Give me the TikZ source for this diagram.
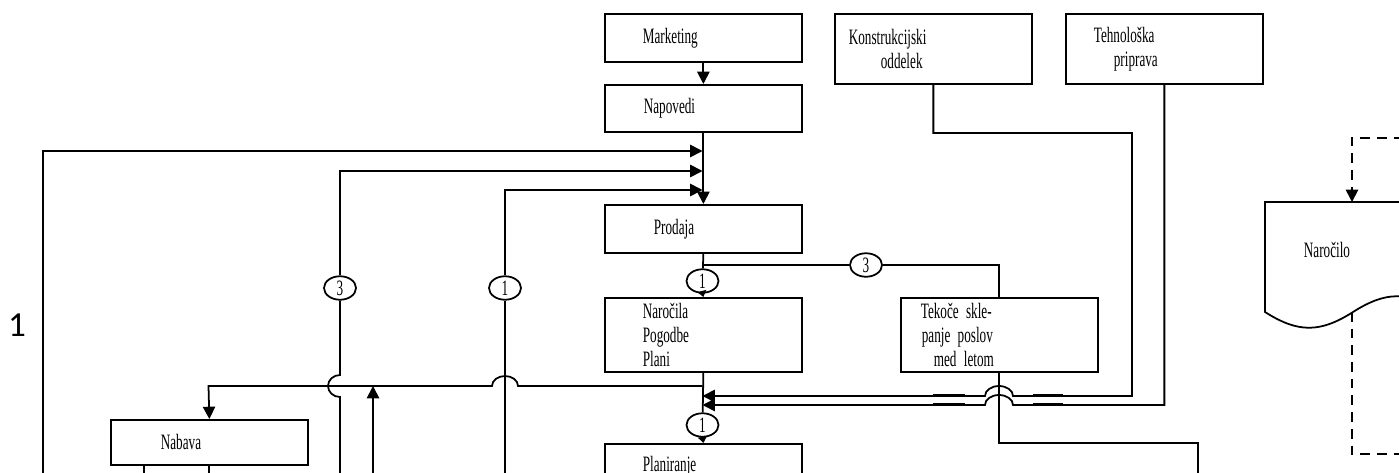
\documentclass[tikz,border=0pt]{standalone}
\usepackage{fontspec}
\usetikzlibrary{arrows.meta,shapes.geometric}
\newfontfamily\boxfont[FakeStretch=0.6]{Liberation Serif}
\newfontfamily\numfont{Carlito}

\begin{document}
\begin{tikzpicture}[x=0.02cm,y=-0.02cm,line width=1pt,
    box/.style={draw,anchor=north west,inner xsep=0pt,inner ysep=0pt,text width=3.94cm,align=left,
        font=\boxfont\fontsize{12.5}{13.6}\selectfont},
    oval/.style={ellipse,draw,fill=white,minimum width=0.64cm,minimum height=0.47cm,inner sep=0pt,
        font=\boxfont\fontsize{12.5}{13}\selectfont},
    arr/.style={-{Triangle[length=7pt,width=7pt]}},
    sarr/.style={-{Triangle[length=3.5pt,width=5pt]}},
    dsh/.style={dash pattern=on 5.5pt off 4pt}]
    \useasboundingbox (0,0) rectangle (1399,473);
    % boxes
    \node[box,minimum height=0.96cm] (mkt) at (604,13) {\hspace*{0.76cm}Marketing};
    \node[box,minimum height=0.94cm] (nap) at (604,84) {\hspace*{0.78cm}Napovedi};
    \node[box,minimum height=1.4cm] (kon) at (834,13) {\hspace*{0.28cm}Konstrukcijski\\\hspace*{0.92cm}oddelek};
    \node[box,minimum height=1.4cm] (teh) at (1065,13) {\hspace*{0.56cm}Tehnološka\\\hspace*{0.96cm}priprava};
    \node[box,minimum height=0.96cm] (prod) at (604,204) {\hspace*{0.98cm}Prodaja};
    \node[box,minimum height=1.48cm] (nar) at (604,297) {\hspace*{0.76cm}Naročila\\\hspace*{0.76cm}Pogodbe\\\hspace*{0.76cm}Plani};
    \node[box,minimum height=1.48cm] (tek) at (900,297) {\hspace*{0.4cm}Tekoče skle-\\\hspace*{0.42cm}panje poslov\\\hspace*{0.66cm}med letom};
    \node[box,minimum height=0.9cm] (nab) at (110,419) {\hspace*{1cm}Nabava};
    \node[box,minimum height=0.9cm] (plan) at (604,443) {\hspace*{0.76cm}Planiranje};
    \node[font=\numfont\fontsize{20}{24}\selectfont] (side) at (17,325) {1};
    % labels on the lines
    \node[oval] (o1) at (702.5,281) {1};
    \node[oval] (o2) at (866,265) {3};
    \node[oval] (o3) at (702.5,425) {1};
    \node[oval] (o4) at (340,288) {3};
    \node[oval] (o5) at (505,288) {1};
    % junctions on the main line
    \coordinate (n1) at (702.5,151);
    \coordinate (n2) at (702.5,171);
    \coordinate (n3) at (702.5,190);
    \coordinate (b1) at (702.5,265);
    \coordinate (j0) at (702.5,386);
    \coordinate (j1) at (702.5,396);
    \coordinate (j2) at (702.5,405);
    % free ends below the picture
    \coordinate (l1) at (43,490);
    \coordinate (l2) at (340,490);
    \coordinate (l3) at (505,490);
    \coordinate (u1) at (373,490);
    \coordinate (u2) at (373,386);
    \coordinate (t1) at (1198,490);
    % main column
    \draw[arr] (mkt.south) -- (nap.north);
    \draw[arr] (nap.south) -- (prod.north);
    \draw (prod.south) -- (o1);
    \draw (b1) -- (o2) -| (tek.north);
    \draw[sarr] (o1.south) -- (nar.north);
    \draw (nar.south) -- (o3);
    \draw[sarr] (o3.south) -- (plan.north);
    % returns from the left
    \draw[arr] (l1) |- (n1);
    \draw (l2) -- (340,397) arc[start angle=90,end angle=270,x radius=12,y radius=11] -- (o4);
    \draw[arr] (o4) |- (n2);
    \draw (l3) -- (o5);
    \draw[arr] (o5) |- (n3);
    \draw[arr] (u1) -- (u2);
    % to Nabava
    \draw[arr] (j0) -- (518,386) arc[start angle=0,end angle=-180,x radius=13,y radius=10] -- (208.5,386) -- (nab.north);
    \draw ([xshift=-1.31cm]nab.south) -- ++(0,23);
    \draw (nab.south) -- ++(0,23);
    % from the right
    \draw[arr] (kon.south) |- (1132,133) |- (1013,396) arc[start angle=0,end angle=-180,x radius=14,y radius=10] -- (j1);
    \draw[arr] (teh.south) |- (1013,405) arc[start angle=0,end angle=-180,x radius=14,y radius=10] -- (j2);
    \draw[line width=1.6pt] (933,395.5) -- (965,395.5) (1033,395.5) -- (1063,395.5)
        (933,404.5) -- (965,404.5) (1033,404.5) -- (1063,404.5);
    \draw (tek.south) |- (1198,443) -- (t1);
    % document
    \draw (1441,312) -- (1441,202) -- (1265,202) -- (1265,312)
        .. controls (1298,333) and (1320,333) .. (1353,312)
        .. controls (1386,291) and (1408,291) .. (1441,312);
    \node[font=\boxfont\fontsize{12.5}{13}\selectfont] (doc) at (1327,250) {Naročilo};
    \coordinate (dtop) at (1352,202);
    \coordinate (dbot) at (1352,312);
    \draw[dsh,arr] (1420,138) -| (dtop);
    \draw[dsh] (dbot) |- (1420,454);
\end{tikzpicture}
\end{document}
